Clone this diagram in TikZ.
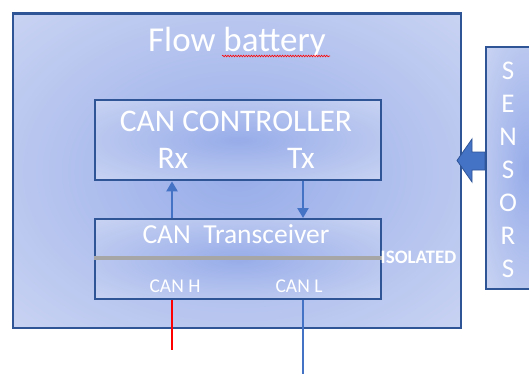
\documentclass[tikz,border=0pt]{standalone}
\usepackage{fontspec}
\setmainfont{Carlito}
\usetikzlibrary{arrows.meta,decorations.pathmorphing}
\definecolor{bdr}{HTML}{2F5597}
\definecolor{acc}{HTML}{4472C4}
\definecolor{cin}{HTML}{97ACE9}
\definecolor{cout}{HTML}{DDE3F6}
\definecolor{sepc}{HTML}{A6A6A6}
\pgfdeclareradialshading{boxrad}{\pgfpoint{0bp}{0bp}}{color(0bp)=(cin); color(50bp)=(cout)}
\begin{document}
\begin{tikzpicture}[x=1pt,y=-1pt,
  box/.style={draw=bdr, line width=2.4pt, shade, shading=boxrad, inner sep=0pt, anchor=north west},
  lbl/.style={text=white, inner sep=0pt, anchor=base},
  link/.style={acc, line width=2.5pt},
  tipend/.style={-{Triangle[length=10pt,width=11pt]}}]
\clip (0,0) rectangle (529,374);
\fill[white] (0,0) rectangle (529,374);
% boxes
\node[box, minimum width=448pt, minimum height=314.5pt] (bat) at (12,12.5) {};
\node[box, minimum width=286pt, minimum height=80pt] (ctrl) at (94,99) {};
\node[box, minimum width=286pt, minimum height=80pt] (trans) at (94,218) {};
\node[box, minimum width=80pt, minimum height=242pt] (sens) at (485,46) {};
% separator
\coordinate (sepy) at (0,258);
\draw[sepc, line width=3.5pt] (trans.west |- sepy) -- (trans.east |- sepy);
% sensor arrow
\filldraw[fill=acc, draw=bdr, line width=0.8pt]
  (sens.west |- 0,152) -- (472,152) -- (472,139) -- (457,160.5) -- (472,182) -- (472,170) -- (sens.west |- 0,170) -- cycle;
% texts
\node[lbl, font=\fontsize{35}{35}\selectfont] (tbat) at (237,52) {Flow battery};
\draw[red, line width=0.6pt, decorate, decoration={snake, amplitude=0.8pt, segment length=2.6pt}] (222,56) -- (330,56);
\node[lbl, font=\fontsize{31.5}{31.5}\selectfont] (tctrl) at (236,131.5) {CAN CONTROLLER};
\node[lbl, font=\fontsize{31.5}{31.5}\selectfont] (trx) at (173,168.5) {Rx};
\node[lbl, font=\fontsize{31.5}{31.5}\selectfont] (ttx) at (301,168.5) {Tx};
\node[lbl, font=\fontsize{27.5}{27.5}\selectfont] (ttrans) at (236,243.5) {CAN~\ Transceiver};
\node[lbl, font=\fontsize{19.5}{19.5}\selectfont] (tcanh) at (175,292.5) {CAN H};
\node[lbl, font=\fontsize{19.5}{19.5}\selectfont] (tcanl) at (299,292.5) {CAN L};
\node[lbl, anchor=base west, font=\bfseries\fontsize{19}{19}\selectfont] (tiso) at (380.5,263) {ISOLATED};
\node[text=white, inner sep=0pt, align=center, font=\fontsize{27}{33}\selectfont] (tsens) at (508,170) {S\\E\\N\\S\\O\\R\\S};
% connectors
\coordinate (rxx) at (172,0);
\coordinate (txx) at (303,0);
\coordinate (hend) at (172,350);
\coordinate (lend) at (303,380);
\draw[link, tipend] (trans.north -| rxx) -- (ctrl.south -| rxx);
\draw[link, tipend] (ctrl.south -| txx) -- (trans.north -| txx);
\draw[red, line width=2.5pt] (trans.south -| rxx) -- (hend);
\draw[link] (trans.south -| txx) -- (lend);
\end{tikzpicture}
\end{document}
